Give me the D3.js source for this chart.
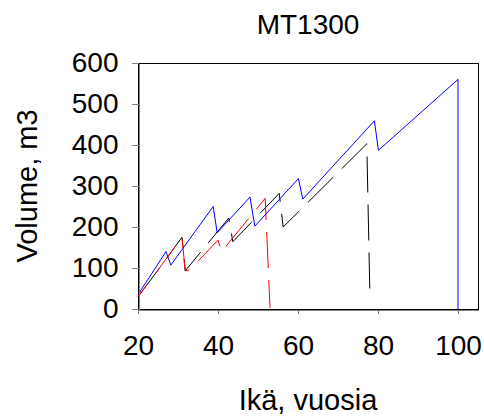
<html>
<head>
    <title>MT1300</title>
    <style type="text/css">
        body{
            margin: 0;
            background-color: #fff;
        }
        svg{
            background-color: #fff;
            font-family: Arial, "Liberation Sans", sans-serif;
        }
        .axis path, .axis line{
            stroke: #808080;
            stroke-width: 1px;
            shape-rendering: crispEdges;
        }
        .axis text{
            fill: #000;
            font-size: 28px;
            font-family: Arial, "Liberation Sans", sans-serif;
        }
        .series{
            fill: none;
            stroke-width: 1px;
        }
    </style>
    <script type="text/javascript" src="https://cdn.jsdelivr.net/npm/d3@7"></script>
</head>
<body>

    <div id="chart"></div>

    <script type="text/javascript">
        // chart values
        var blueAge = [20, 27, 28.2, 38.8, 39.8, 48, 49.2, 60.1, 61.2, 79.1, 80.1, 100, 100];
        var blueVol = [35, 140, 107, 250, 186, 273, 202, 318, 268, 459, 387, 560, 0];

        var redAge = [20, 25, 31, 31.8, 33, 40, 40.9, 51.8, 53];
        var redVol = [30, 95, 175, 93, 96, 168, 140, 270, 3];

        var blackAge = [20, 25, 31, 31.8, 42.7, 43.7, 55.3, 56.3, 77.2, 78];
        var blackVol = [30, 95, 175, 93, 222, 164, 282, 200, 403, 22];

        var xTicks = [20, 40, 60, 80, 100];
        var yTicks = [0, 100, 200, 300, 400, 500, 600];

        var width = 484, height = 419;
        var marginLeft = 138, marginTop = 63, plotW = 340, plotH = 246;

        var svg = d3.select('#chart')
            .append('svg')
            .attr('width', width)
            .attr('height', height);

        var xScale = d3.scaleLinear()
            .domain([20, 105])
            .range([0, plotW]);

        var yScale = d3.scaleLinear()
            .domain([0, 600])
            .range([plotH, 0]);

        var plot = svg.append('g')
            .attr('transform', 'translate(' + marginLeft + ',' + marginTop + ')');

        // plot area border
        plot.append('rect')
            .attr('x', 0.5)
            .attr('y', 0.5)
            .attr('width', plotW)
            .attr('height', plotH)
            .attr('fill', 'none')
            .attr('stroke', '#000')
            .style('shape-rendering', 'crispEdges');

        var line = d3.line()
            .x(function(d){ return xScale(d[0]); })
            .y(function(d){ return yScale(d[1]); });

        plot.append('path')
            .datum(d3.zip(blackAge, blackVol))
            .attr('class', 'series')
            .attr('stroke', '#000')
            .attr('stroke-dasharray', '36,12')
            .attr('d', line);

        plot.append('path')
            .datum(d3.zip(redAge, redVol))
            .attr('class', 'series')
            .attr('stroke', '#ff0000')
            .attr('stroke-dasharray', '36,12')
            .attr('stroke-dashoffset', 20)
            .attr('d', line);

        plot.append('path')
            .datum(d3.zip(blueAge, blueVol))
            .attr('class', 'series')
            .attr('stroke', '#0000ff')
            .attr('d', line);

        var xAxis = d3.axisBottom(xScale)
            .tickValues(xTicks)
            .tickSize(4)
            .tickSizeOuter(0)
            .tickPadding(22);

        var yAxis = d3.axisLeft(yScale)
            .tickValues(yTicks)
            .tickSize(7)
            .tickSizeOuter(0)
            .tickPadding(13);

        plot.append('g')
            .attr('class', 'axis')
            .attr('transform', 'translate(0,' + (plotH + 0.5) + ')')
            .call(xAxis);

        plot.append('g')
            .attr('class', 'axis')
            .attr('transform', 'translate(0.5,0)')
            .call(yAxis);

        // title and axis labels
        svg.append('text')
            .attr('x', 308)
            .attr('y', 34)
            .attr('text-anchor', 'middle')
            .style('font-size', '28px')
            .text('MT1300');

        svg.append('text')
            .attr('x', 308)
            .attr('y', 410)
            .attr('text-anchor', 'middle')
            .style('font-size', '29px')
            .text('Ikä, vuosia');

        svg.append('text')
            .attr('transform', 'translate(37,186) rotate(-90)')
            .attr('text-anchor', 'middle')
            .style('font-size', '29px')
            .text('Volume, m3');
    </script>

</body>
</html>
